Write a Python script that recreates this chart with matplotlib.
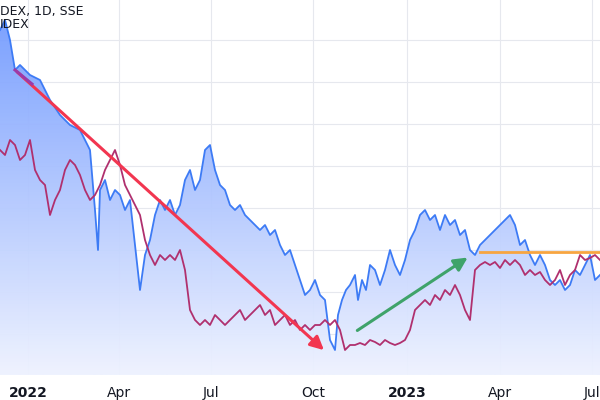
import numpy as np
import matplotlib
matplotlib.use("Agg")
import matplotlib.pyplot as plt
from matplotlib.patches import Polygon
from matplotlib.colors import LinearSegmentedColormap

blue_x = [0,5,10,15,20,30,40,50,60,70,80,90,95,98,100,105,110,115,120,125,130,135,140,145,150,155,160,165,170,175,180,185,190,195,200,205,210,215,220,225,230,235,240,245,250,255,260,265,270,275,280,285,290,295,300,305,310,315,320,325,330,335,338,342,346,350,355,358,362,366,370,375,380,385,390,395,400,405,410,415,420,425,430,435,440,445,450,455,460,465,470,475,480,485,490,495,500,505,510,515,520,525,530,535,540,545,550,555,560,565,570,575,580,585,590,595,600]
blue_y = [30,20,40,70,65,75,80,100,115,125,130,150,210,250,190,180,200,190,195,210,200,245,290,255,240,215,200,210,200,215,205,180,170,190,180,150,145,170,185,190,205,210,205,215,220,225,230,225,235,230,245,255,250,265,280,295,290,280,295,300,340,350,315,300,290,285,275,300,280,290,265,270,285,270,250,265,275,260,240,230,215,210,220,215,230,215,225,220,235,230,250,255,245,240,235,230,225,220,215,225,245,240,255,265,255,265,280,285,280,290,285,270,275,265,255,280,275]
pur_x = list(range(0,475,5)) + [472] + list(range(475,605,5))
pur_y = [150,155,140,145,160,155,140,170,180,185,215,200,190,170,160,165,175,190,200,195,185,170,160,150,165,185,195,205,215,240,255,265,255,260,255,260,250,270,310,320,325,320,325,315,320,325,320,315,310,320,315,310,305,315,310,325,320,315,325,320,330,325,330,325,325,320,325,320,330,350,345,345,343,345,340,342,345,340,343,345,343,340,330,310,305,300,305,295,300,290,295,285,295,310,320,300,270,265,262,265,262,268,260,265,260,265,275,270,275,272,280,285,280,270,285,275,270,255,260,258,255,260]
tick_pos = [28,119,211,313,407,500,592]
tick_lab = ["2022","Apr","Jul","Oct","2023","Apr","Jul"]
hgrid = [40,82,124,166,208,250,292,334]

fig = plt.figure(figsize=(6,4), dpi=100)
ax = fig.add_axes([0, 25/400, 1, 375/400])
ax.set_xlim(0,600); ax.set_ylim(375,0)
for g in hgrid: ax.axhline(g, color='#e6e8ee', lw=0.8, zorder=0)
for t in tick_pos: ax.axvline(t, color='#e6e8ee', lw=0.8, zorder=0)

grad = np.linspace(0,1,256).reshape(-1,1)
cm = LinearSegmentedColormap.from_list('g', ['#6f98ff', '#eef2fe'])
im = ax.imshow(grad, cmap=cm, extent=[0,600,375,0], aspect='auto', zorder=1, alpha=0.95)
poly = Polygon(list(zip(blue_x, blue_y)) + [(600,375),(0,375)], closed=True, transform=ax.transData, facecolor='none', edgecolor='none')
ax.add_patch(poly)
im.set_clip_path(poly)
ax.plot(blue_x, blue_y, color='#3d7bf5', lw=1.3, zorder=3)
ax.plot(pur_x, pur_y, color='#b0306e', lw=1.3, zorder=3)

ax.annotate('', xy=(326,352), xytext=(15,70), arrowprops=dict(arrowstyle='-|>,head_length=0.8,head_width=0.4', color='#f23650', lw=2.2), zorder=5)
ax.plot([15,32],[70,84], color='#9c3aa8', lw=2.2, zorder=6)
ax.annotate('', xy=(470,256), xytext=(355,332), arrowprops=dict(arrowstyle='-|>,head_length=0.8,head_width=0.4', color='#3fa36a', lw=2.2), zorder=5)
ax.plot([480,600],[252,252], color='#f7a541', lw=2, zorder=4)

ax.set_xticks(tick_pos)
ax.set_xticklabels(tick_lab, fontsize=10, color='#131722')
for lab in ax.get_xticklabels():
    if lab.get_text() in ("2022","2023"): lab.set_fontweight('bold')
ax.tick_params(axis='x', length=0, pad=8)
ax.set_yticks([])
for s in ax.spines.values(): s.set_visible(False)
ax.text(0, 12, "DEX, 1D, SSE", fontsize=9, color='#131722', va='center', zorder=7)
ax.text(0, 25, "IDEX", fontsize=9, color='#131722', va='center', zorder=7)
fig.savefig("out.png", dpi=100)
